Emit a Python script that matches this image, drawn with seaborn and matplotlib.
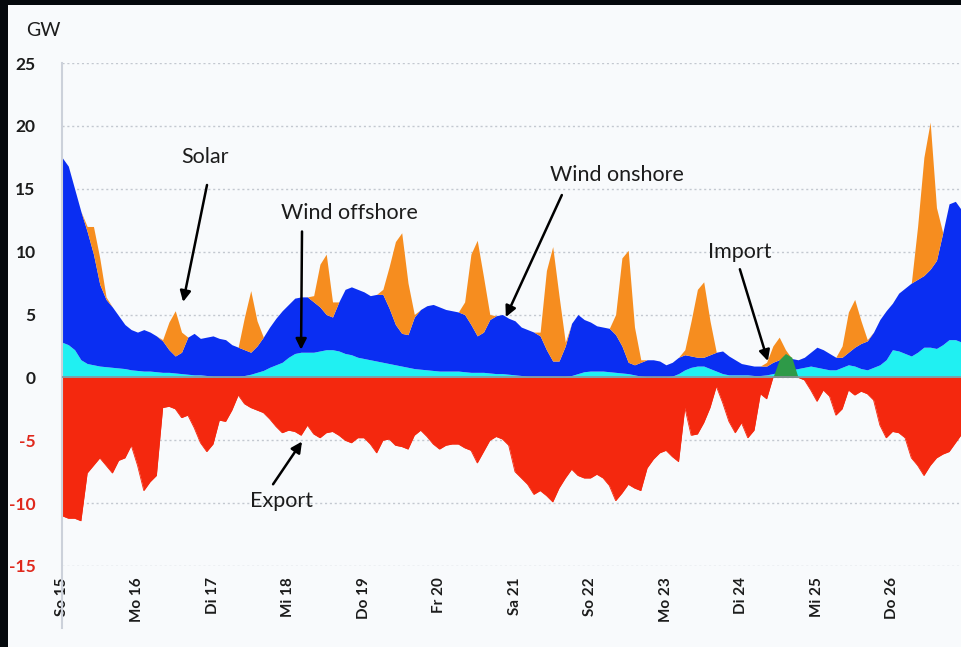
import numpy as np
import pandas as pd
import matplotlib
matplotlib.use("Agg")
import matplotlib.pyplot as plt
from matplotlib.patches import Rectangle
import seaborn as sns

# ---------------- data (GW, 2-hourly from So 15 00:00) ----------------
day_labels = ["So 15", "Mo 16", "Di 17", "Mi 18", "Do 19", "Fr 20",
              "Sa 21", "So 22", "Mo 23", "Di 24", "Mi 25", "Do 26"]

wind_offshore = [
    2.8, 2.6, 2.2, 1.4, 1.1, 1.0, 0.9, 0.85, 0.8, 0.75, 0.7, 0.6,
    0.55, 0.5, 0.5, 0.45, 0.4, 0.4, 0.35, 0.3, 0.25, 0.2, 0.2, 0.15,
    0.1, 0.1, 0.1, 0.1, 0.1, 0.15, 0.25, 0.4, 0.55, 0.8, 1.0, 1.2,
    1.6, 1.9, 2.0, 2.0, 2.0, 2.1, 2.2, 2.2, 2.1, 1.9, 1.8, 1.6,
    1.5, 1.4, 1.3, 1.2, 1.1, 1.0, 0.9, 0.8, 0.7, 0.65, 0.6, 0.55,
    0.5, 0.5, 0.5, 0.5, 0.45, 0.4, 0.4, 0.4, 0.35, 0.3, 0.3, 0.25,
    0.2, 0.15, 0.1, 0.1, 0.1, 0.1, 0.1, 0.1, 0.1, 0.15, 0.3, 0.45,
    0.5, 0.5, 0.5, 0.45, 0.4, 0.35, 0.3, 0.2, 0.1, 0.05, 0.05, 0.05,
    0.05, 0.1, 0.3, 0.6, 0.8, 0.9, 0.9, 0.7, 0.5, 0.3, 0.2, 0.2,
    0.2, 0.2, 0.15, 0.15, 0.2, 0.3, 0.4, 0.5, 0.6, 0.7, 0.8, 0.9,
    0.8, 0.7, 0.6, 0.6, 0.8, 1.0, 0.9, 0.7, 0.6, 0.8, 1.0, 1.4,
    2.2, 2.1, 1.9, 1.7, 2.0, 2.4, 2.4, 2.3, 2.6, 3.0, 3.0, 2.8,
]

wind_onshore = [
    14.7, 14.2, 12.8, 11.8, 10.5, 8.8, 6.5, 5.35, 4.8, 4.15, 3.5, 3.2,
    3.05, 3.3, 3.1, 2.85, 2.5, 1.8, 1.35, 1.7, 2.95, 3.3, 2.9, 3.05,
    3.2, 3.0, 2.9, 2.5, 2.3, 2.05, 1.75, 2.1, 2.65, 3.2, 3.7, 4.1,
    4.2, 4.4, 4.4, 4.4, 4.0, 3.5, 2.8, 2.6, 3.9, 5.1, 5.4, 5.4,
    5.3, 5.1, 5.3, 5.4, 4.4, 3.2, 2.6, 2.6, 4.1, 4.75, 5.1, 5.25,
    5.1, 4.9, 4.8, 4.7, 4.55, 3.8, 2.9, 3.2, 4.25, 4.6, 4.7, 4.45,
    4.3, 3.85, 3.7, 3.5, 3.2, 2.1, 1.2, 1.2, 2.4, 4.15, 4.7, 4.15,
    3.9, 3.6, 3.5, 3.45, 3.0, 2.15, 0.9, 0.8, 1.1, 1.35, 1.35, 1.25,
    0.95, 1.1, 1.3, 1.2, 0.9, 0.7, 0.7, 1.1, 1.5, 1.8, 1.5, 1.2,
    0.9, 0.8, 0.75, 0.75, 0.7, 0.9, 1.0, 1.1, 0.9, 0.7, 0.8, 1.1,
    1.6, 1.5, 1.3, 1.0, 0.8, 1.0, 1.5, 2.0, 2.3, 2.8, 3.6, 3.9,
    3.7, 4.6, 5.2, 5.8, 5.8, 5.7, 6.2, 7.0, 8.9, 10.8, 11.0, 10.5,
]

solar = [
    0, 0, 0, 0, 0.4, 2.2, 2.1, 0.2, 0, 0, 0, 0,
    0, 0, 0, 0, 0.1, 2.2, 3.6, 1.6, 0, 0, 0, 0,
    0, 0, 0, 0, 0, 2.6, 4.9, 2.0, 0, 0, 0, 0,
    0, 0, 0, 0, 0.5, 3.4, 4.8, 1.2, 0, 0, 0, 0,
    0, 0, 0, 0.4, 3.3, 6.6, 8.0, 4.1, 0.2, 0, 0, 0,
    0, 0, 0, 0, 1.0, 5.6, 7.6, 4.4, 0.4, 0, 0, 0,
    0, 0, 0, 0, 0.3, 6.3, 9.1, 5.2, 0.3, 0, 0, 0,
    0, 0, 0, 0, 1.6, 7.0, 8.9, 3.0, 0.2, 0, 0, 0,
    0, 0, 0, 0.4, 2.8, 5.4, 6.0, 2.7, 0, 0, 0, 0,
    0, 0, 0, 0, 0.3, 1.3, 1.8, 0.6, 0, 0, 0, 0,
    0, 0, 0, 0, 0.9, 3.2, 3.8, 1.8, 0.1, 0, 0, 0,
    0, 0, 0, 0, 4.2, 9.4, 11.7, 4.2, 0, 0, 0, 0,
]

imports = [
    0, 0, 0, 0, 0, 0, 0, 0, 0, 0, 0, 0,
    0, 0, 0, 0, 0, 0, 0, 0, 0, 0, 0, 0,
    0, 0, 0, 0, 0, 0, 0, 0, 0, 0, 0, 0,
    0, 0, 0, 0, 0, 0, 0, 0, 0, 0, 0, 0,
    0, 0, 0, 0, 0, 0, 0, 0, 0, 0, 0, 0,
    0, 0, 0, 0, 0, 0, 0, 0, 0, 0, 0, 0,
    0, 0, 0, 0, 0, 0, 0, 0, 0, 0, 0, 0,
    0, 0, 0, 0, 0, 0, 0, 0, 0, 0, 0, 0,
    0, 0, 0, 0, 0, 0, 0, 0, 0, 0, 0, 0,
    0, 0, 0, 0, 0, 0, 1.4, 1.9, 1.6, 0, 0, 0,
    0, 0, 0, 0, 0, 0, 0, 0, 0, 0, 0, 0,
    0, 0, 0, 0, 0, 0, 0, 0, 0, 0, 0, 0,
]

exports = [
    -11.0, -11.2, -11.2, -11.4, -7.6, -7.0, -6.4, -7.0, -7.6, -6.6, -6.4, -5.4,
    -7.0, -9.0, -8.3, -7.8, -2.4, -2.3, -2.5, -3.2, -3.0, -4.0, -5.2, -5.9,
    -5.3, -3.4, -3.5, -2.6, -1.4, -2.1, -2.4, -2.6, -2.8, -3.3, -3.9, -4.4,
    -4.2, -4.3, -4.6, -3.8, -4.5, -4.8, -4.4, -4.3, -4.6, -5.0, -5.2, -4.8,
    -4.8, -5.3, -6.0, -5.0, -4.9, -5.4, -5.5, -5.7, -4.6, -4.2, -4.7, -5.3,
    -5.7, -5.4, -5.3, -5.3, -5.6, -5.8, -6.8, -5.9, -5.0, -4.7, -4.9, -5.4,
    -7.5, -8.0, -8.5, -9.3, -9.0, -9.4, -9.9, -8.8, -8.0, -7.3, -7.8, -8.0,
    -8.0, -7.7, -8.0, -8.6, -9.8, -9.2, -8.5, -8.8, -9.0, -7.2, -6.5, -6.0,
    -5.8, -6.3, -6.7, -2.4, -4.6, -4.5, -3.6, -2.4, -0.7, -2.0, -3.5, -4.4,
    -3.6, -4.8, -4.2, -1.3, -1.7, 0, 0, 0, 0, 0, -0.2, -1.0,
    -1.9, -1.0, -1.5, -3.0, -2.5, -1.0, -1.4, -1.1, -1.3, -1.8, -3.8, -4.8,
    -4.3, -4.4, -4.8, -6.4, -7.0, -7.8, -7.0, -6.4, -6.1, -5.9, -5.2, -4.5,
]

hours = np.arange(len(wind_offshore)) * 2  # time axis in hours

df = pd.DataFrame({
    "hour": hours,
    "offshore": wind_offshore,
    "onshore": wind_onshore,
    "solar": solar,
    "import": imports,
    "export": exports,
})

# ---------------- style ----------------
sns.set_theme(style="white")
plt.rcParams["font.family"] = ["Lato", "DejaVu Sans"]

C_OFF = "#20f0f2"
C_ON = "#0a2ef2"
C_SOL = "#f68d1f"
C_IMP = "#2e9a48"
C_EXP = "#f4280e"

fig = plt.figure(figsize=(9.61, 6.47), dpi=100, facecolor="#05090d")
fig.patches.append(Rectangle((8 / 961, 0), 1, 642 / 647, transform=fig.transFigure,
                             facecolor="#f8fafc", edgecolor="none", zorder=-10))
ax = fig.add_axes([62 / 961, 81 / 647, (961 - 62) / 961, 503 / 647])
ax.set_facecolor("none")

# stacked generation
ax.stackplot(df["hour"], df["offshore"], df["onshore"], df["solar"],
             colors=[C_OFF, C_ON, C_SOL], linewidth=0, zorder=2)
# import / export
ax.fill_between(df["hour"], 0, df["import"], color=C_IMP, lw=0, zorder=3)
ax.fill_between(df["hour"], df["export"], 0, color=C_EXP, lw=0, zorder=2)
sns.lineplot(data=df, x="hour", y="export", ax=ax, color=C_EXP, lw=0.6, zorder=2)

ax.axhline(0, color="#8d929c", lw=1.2, zorder=4)

# axes
ax.set_xlim(0, 285.8)
ax.set_ylim(-15, 25)
ax.set_xlabel("")
ax.set_ylabel("")
ax.set_yticks(np.arange(-15, 26, 5))
ax.set_yticklabels([str(v) for v in np.arange(-15, 26, 5)])
for lab, v in zip(ax.get_yticklabels(), np.arange(-15, 26, 5)):
    lab.set_color("#e0281c" if v < 0 else "#1c1c1c")
    lab.set_fontweight("bold")
ax.tick_params(axis="y", length=8, width=1, color="#c8ccd4", pad=11, labelsize=12.5)

ax.set_xticks(np.arange(len(day_labels)) * 24)
ax.set_xticklabels(day_labels, rotation=90, fontweight="bold", fontsize=11,
                   color="#1c1c1c")
ax.tick_params(axis="x", length=0, pad=8)

ax.yaxis.grid(True, linestyle=(0, (1.5, 2.0)), color="#c3c8d0", lw=1.0)
ax.xaxis.grid(False)
ax.set_axisbelow(True)
for s in ["top", "right", "bottom"]:
    ax.spines[s].set_visible(False)
ax.spines["left"].set_color("#ccd1da")
ax.spines["left"].set_linewidth(1.5)
ax.spines["left"].set_bounds(-19.9, 25)

# unit label
fig.text(26 / 961, 1 - 30 / 647, "GW", fontsize=14, color="#1c1c1c", va="center", ha="left")

# annotations (data coordinates: hours, GW)
arrow = dict(arrowstyle="-|>", color="black", lw=1.8, mutation_scale=16,
             shrinkA=0, shrinkB=0)
labels = [
    ("Solar", (45.5, 17.5), (46.1, 15.3), (38.5, 6.0)),
    ("Wind offshore", (91.5, 13.1), (76.3, 11.6), (76.0, 2.2)),
    ("Wind onshore", (176.4, 16.1), (158.9, 14.5), (141.1, 4.8)),
    ("Import", (215.5, 10.0), (215.5, 8.6), (224.4, 1.3)),
    ("Export", (69.9, -9.8), (67.1, -8.5), (76.3, -5.1)),
]
for txt, pos, start, tip in labels:
    ax.text(pos[0], pos[1], txt, fontsize=15.5, color="#1c1c1c",
            ha="center", va="center", zorder=6)
    ax.annotate("", xy=tip, xytext=start, arrowprops=arrow, zorder=6)

fig.savefig("out.png", dpi=100, facecolor=fig.get_facecolor())
